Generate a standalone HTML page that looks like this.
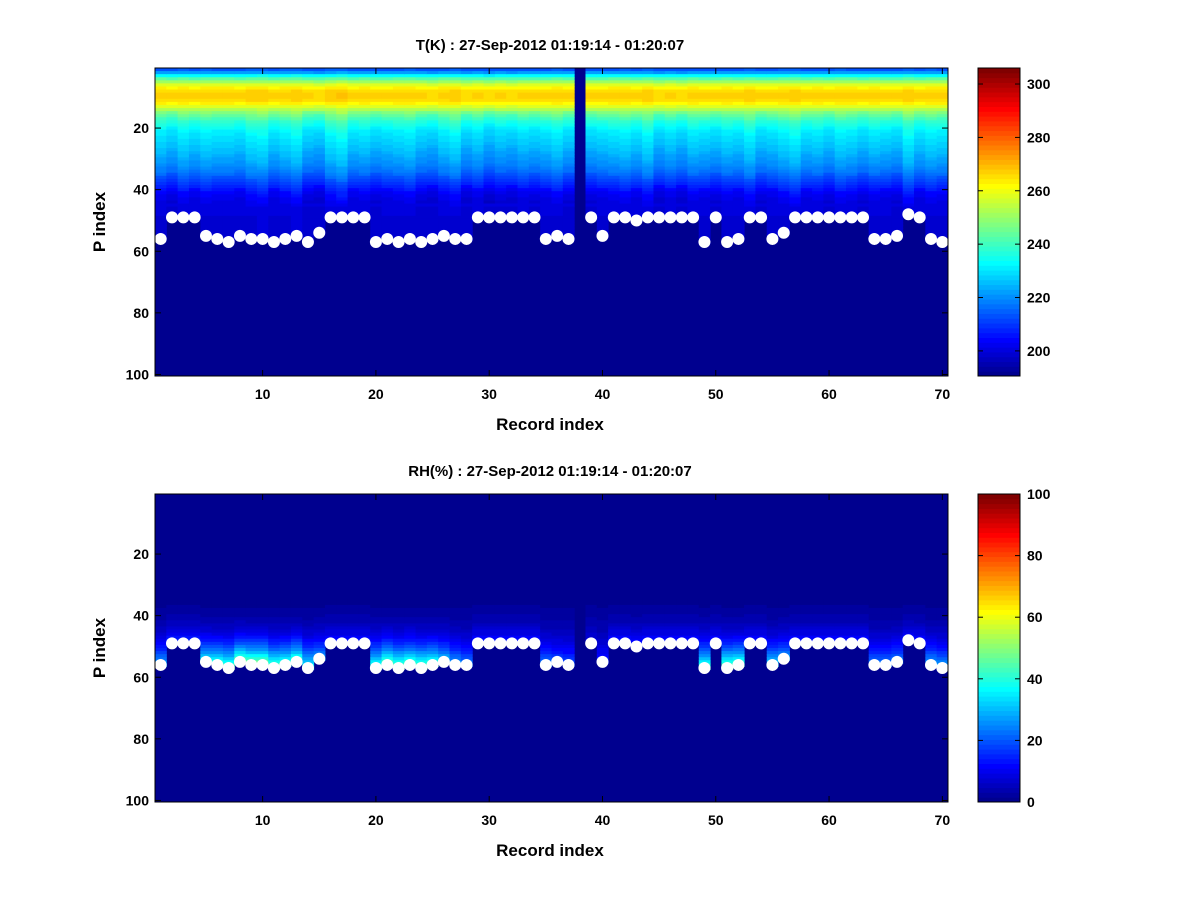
<!DOCTYPE html>
<html><head><meta charset="utf-8"><style>
body{margin:0;background:#fff;}
svg text{font-family:"Liberation Sans",sans-serif;font-weight:bold;}
</style></head><body>
<svg id="fig" width="1200" height="900" xmlns="http://www.w3.org/2000/svg"></svg>
<script>
// data
const records = Array.from({length:70},(_,i)=>i+1);
const surfaceIdx = [56,49,49,49,55,56,57,55,56,56,57,56,55,57,54,49,49,49,49,57,56,57,56,57,56,55,56,56,49,49,49,49,49,49,56,55,56,0,49,55,49,49,50,49,49,49,49,49,57,49,57,56,49,49,56,54,49,49,49,49,49,49,49,56,56,55,48,49,56,57];
const tempOffset = [0,-2,1,-1,1,0,0,-1,2,3,-1,1,3,-2,-3,2,4,-1,0,-2,-1,0,1,-2,-3,0,2,-3,-1,-4,-2,-3,-1,-2,-1,1,-2,0,-2,-1,0,1,-1,2,-3,-1,-3,0,-1,-2,0,-1,2,-2,-1,1,3,-1,0,-2,1,0,-2,0,-1,-2,3,-1,1,0];
const tempProfile = [214,222,233,243,251,258,263,266,267,267,266,263,258,253,248,244,241,238,236,234,232,231,230,229,228,227,226,225,224,223,222,221,219,218,216,214,212,210,208,206,204,203,202,201,201,200,200,200,199,199,199,199,199,199,199,199,199];
const rhMax = [30,18,18,18,40,45,48,52,55,55,50,45,48,40,30,15,15,15,15,45,50,50,48,50,45,35,30,25,15,15,15,15,15,15,25,20,20,0,10,15,15,15,15,15,15,15,15,15,45,15,50,45,15,15,35,30,15,15,15,15,15,15,15,25,25,25,15,15,30,30];
const tTicks=[200,220,240,260,280,300], rhTicks=[0,20,40,60,80,100];
const xTicks=[10,20,30,40,50,60,70], yTicks=[20,40,60,80,100];

const NS="http://www.w3.org/2000/svg", svg=document.getElementById('fig');
function mk(t,a,p){const e=document.createElementNS(NS,t);for(const k in a)e.setAttribute(k,a[k]);(p||svg).appendChild(e);return e;}
function jet(v){v=Math.max(0,Math.min(1,v));const k=Math.min(63,Math.floor(v*64));const u=(k+1)/64;
const f=x=>Math.round(255*Math.max(0,Math.min(1,x)));
return `rgb(${f(1.5-Math.abs(4*u-3))},${f(1.5-Math.abs(4*u-2))},${f(1.5-Math.abs(4*u-1))})`;}
const X0=155,X1=948;
const xs=v=>X0+(v-0.5)*(X1-X0)/70;

function panel(top,name,title,valFn,vmin,vmax,ticks){
  const Y1=top+308;const ys=p=>top+(p-0.5)*308/100;
  const g=mk('g',{});  
  mk('rect',{x:X0,y:top,width:X1-X0,height:308,fill:jet(0)},g);
  records.forEach((r,i)=>{for(let p=1;p<=100;p++){const v=valFn(i,p);if(v==null)continue;
    mk('rect',{x:xs(r-0.5),y:ys(p-0.5),width:(X1-X0)/70+0.5,height:308/100+0.5,fill:jet((v-vmin)/(vmax-vmin))},g);}});
  records.forEach((r,i)=>{if(surfaceIdx[i]>0){const c=mk('circle',{cx:xs(r),cy:ys(surfaceIdx[i]),r:6,fill:'#fff'});
    }});
  mk('rect',{x:X0,y:top,width:X1-X0,height:308,fill:'none',stroke:'#000'});
  xTicks.forEach(t=>{const x=xs(t);mk('line',{x1:x,x2:x,y1:Y1,y2:Y1-6,stroke:'#000'});mk('line',{x1:x,x2:x,y1:top,y2:top+6,stroke:'#000'});
    const l=mk('text',{x:x,y:Y1+23,'text-anchor':'middle','font-size':14});l.textContent=t;});
  yTicks.forEach(t=>{const y=ys(t);mk('line',{x1:X0,x2:X0+6,y1:y,y2:y,stroke:'#000'});mk('line',{x1:X1,x2:X1-6,y1:y,y2:y,stroke:'#000'});
    const l=mk('text',{x:X0-6,y:y+5,'text-anchor':'end','font-size':14});l.textContent=t;});
  let e=mk('text',{x:550,y:top-18,'text-anchor':'middle','font-size':15});e.textContent=title;
  e=mk('text',{x:550,y:Y1+54,'text-anchor':'middle','font-size':17});e.textContent='Record index';
  e=mk('text',{x:105,y:top+154,'text-anchor':'middle','font-size':17,transform:`rotate(-90 105 ${top+154})`});e.textContent='P index';
  const cb=mk('g',{});
  for(let k=0;k<64;k++){mk('rect',{x:978,y:Y1-(k+1)*308/64,width:42,height:308/64+0.5,fill:jet((k+0.5)/64)},cb);}
  mk('rect',{x:978,y:top,width:42,height:308,fill:'none',stroke:'#000'},cb);
  ticks.forEach(t=>{const y=Y1-(t-vmin)/(vmax-vmin)*308;mk('line',{x1:978,x2:983,y1:y,y2:y,stroke:'#000'},cb);mk('line',{x1:1020,x2:1015,y1:y,y2:y,stroke:'#000'},cb);
    const l=mk('text',{x:1027,y:y+5,'font-size':14},cb);l.textContent=t;});
}
panel(68,'temperature','T(K) : 27-Sep-2012 01:19:14 - 01:20:07',(i,p)=>{
  const s=surfaceIdx[i]; if(s===0||p>s) return null;
  const base=tempProfile[Math.min(p-1,tempProfile.length-1)]; const w=(p>14&&p<45)?1:0.3;
  return base+tempOffset[i]*w;},190.6,306,tTicks);
panel(494,'humidity','RH(%) : 27-Sep-2012 01:19:14 - 01:20:07',(i,p)=>{
  const s=surfaceIdx[i]; if(s===0||p>s||p<35) return null;
  const f=(p-35)/Math.max(1,s-35); return 1+5*f+(rhMax[i]-6)*Math.pow(f,3);},0,100,rhTicks);
</script>
</body></html>
